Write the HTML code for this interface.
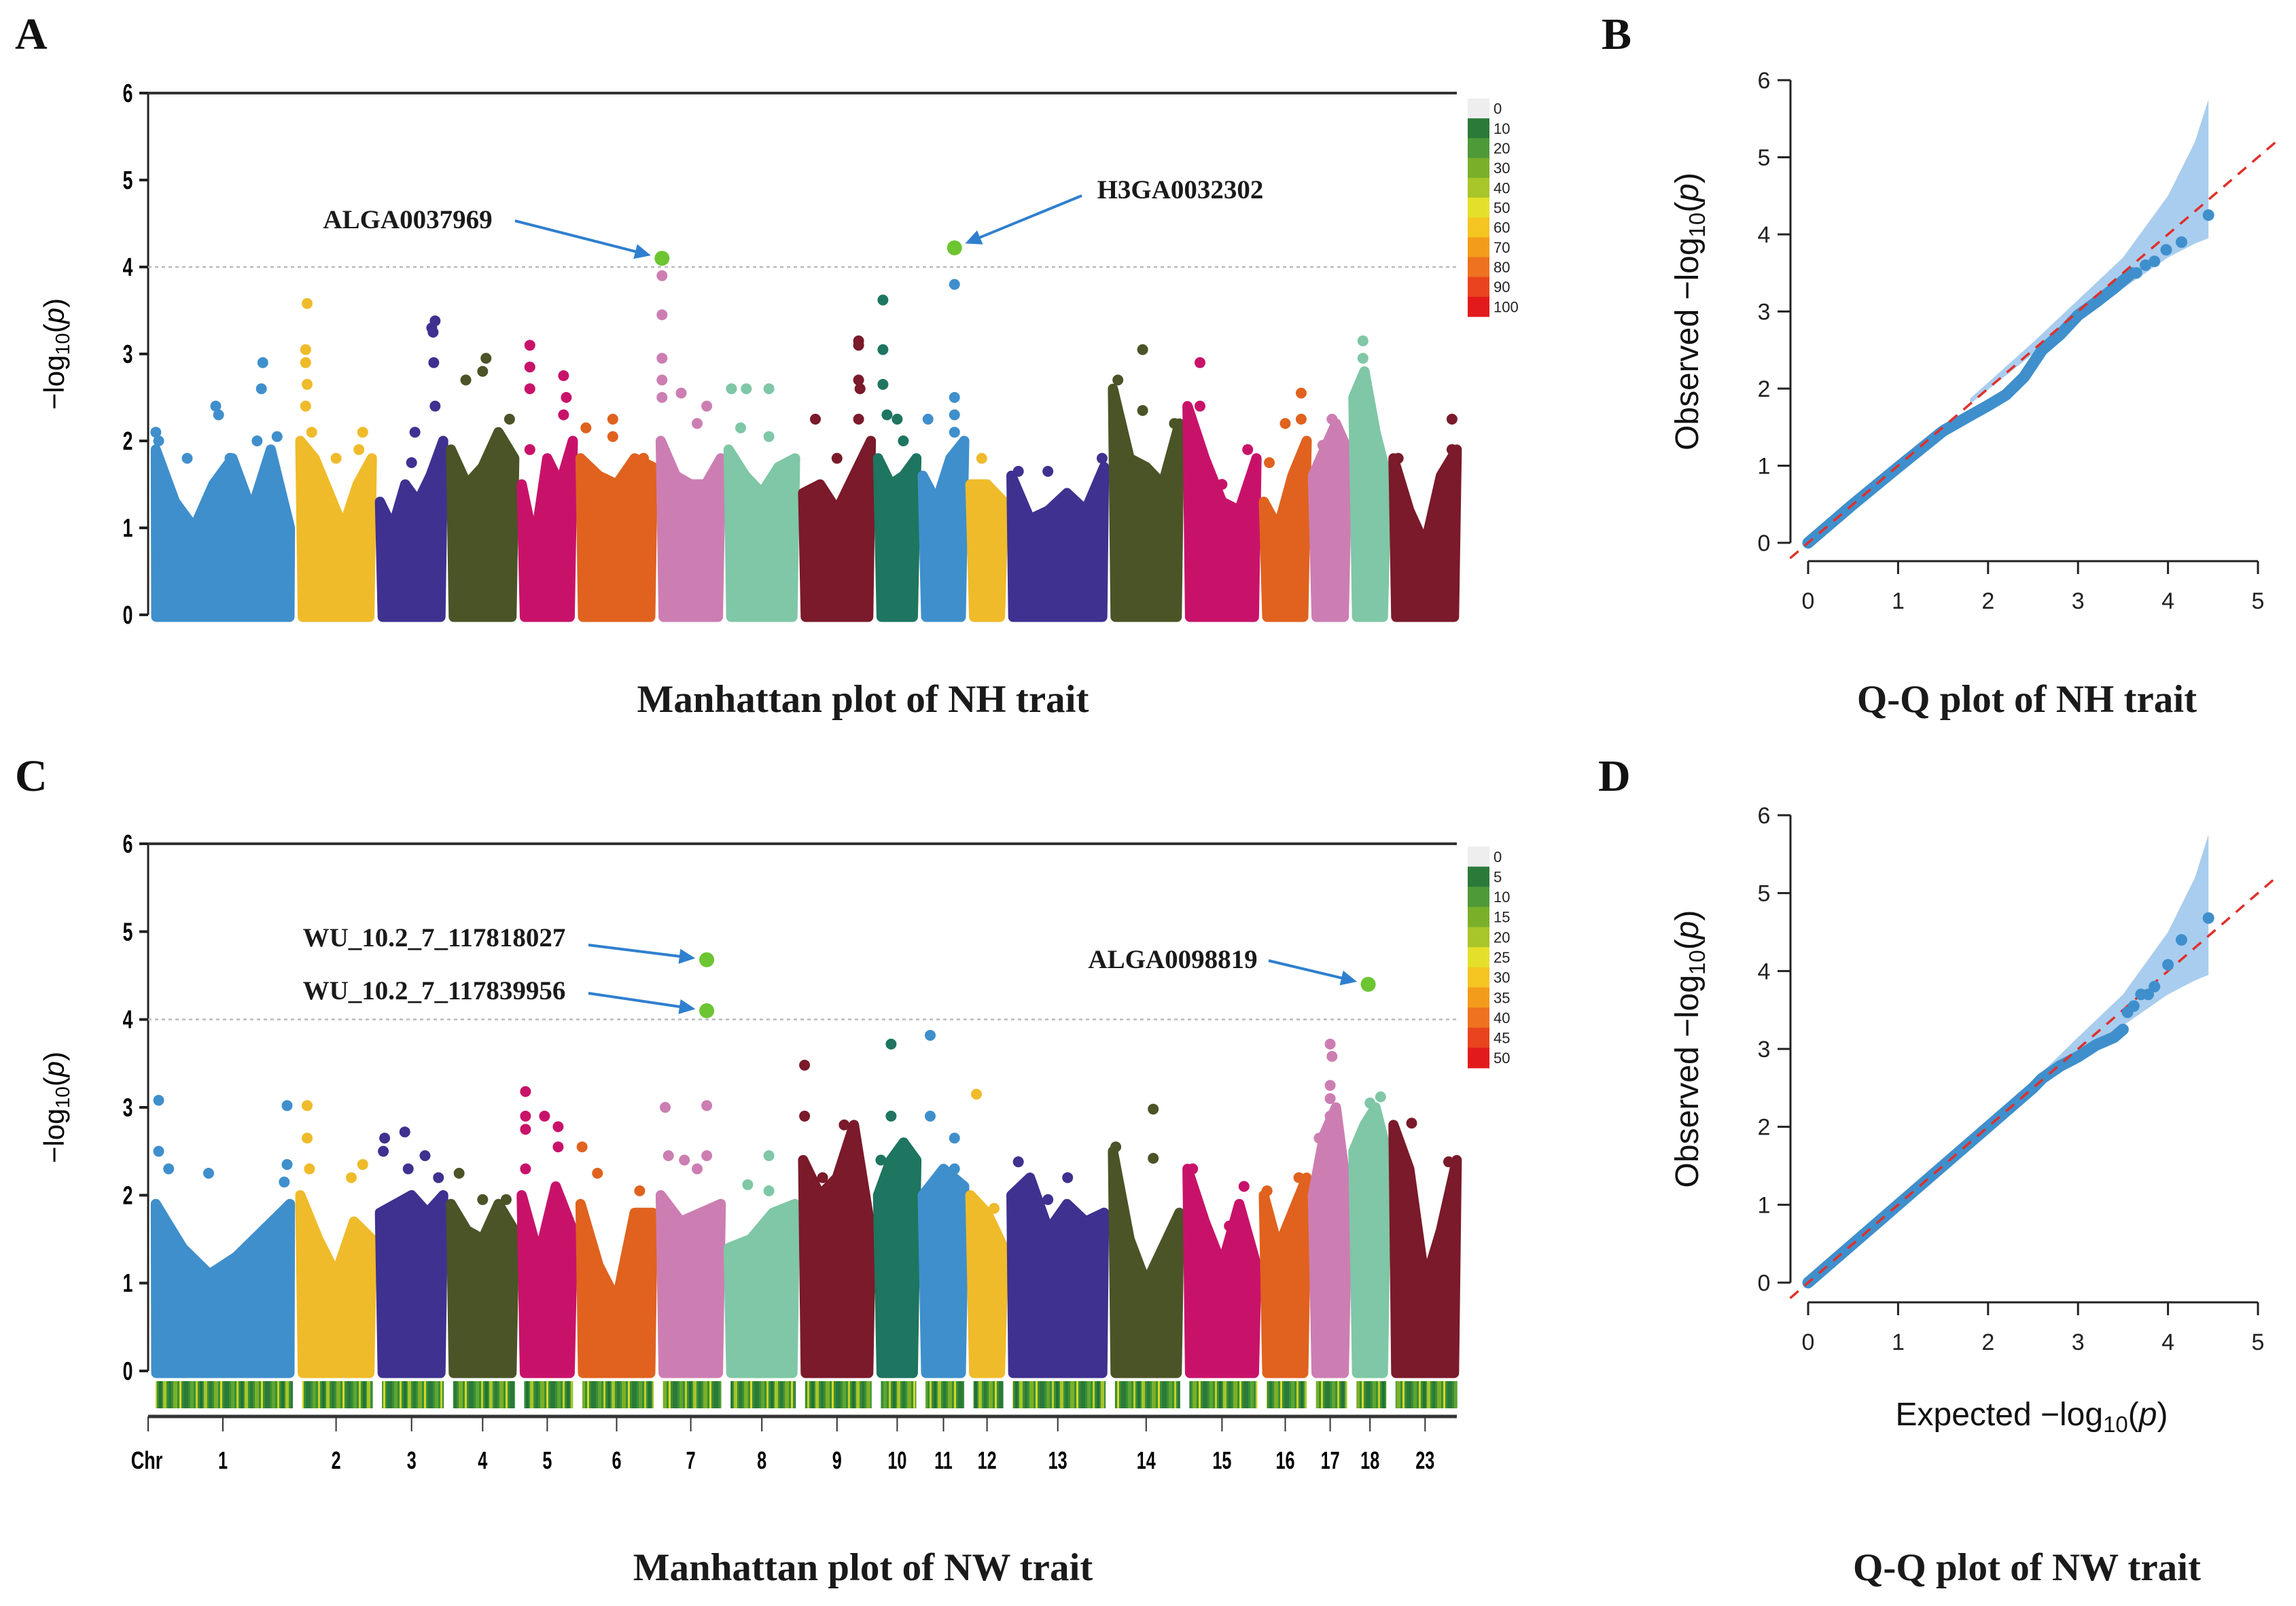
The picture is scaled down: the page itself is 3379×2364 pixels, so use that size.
<!DOCTYPE html>
<html><head><meta charset="utf-8"><style>
html,body{margin:0;padding:0;background:#fff;}
svg{display:block;}
.lab{font-family:"Liberation Serif",serif;font-weight:bold;}
.ax{font-family:"Liberation Sans",sans-serif;}
</style></head><body>
<svg id="fig" width="3379" height="2364" viewBox="0 0 3379 2364" xmlns="http://www.w3.org/2000/svg">
<defs>
<pattern id="stripes" width="60" height="40" patternUnits="userSpaceOnUse">
<rect width="60" height="40" fill="#3a8f35"/>
<rect x="0" width="5" height="40" fill="#a8c52a"/><rect x="8" width="4" height="40" fill="#2b7a3a"/>
<rect x="15" width="6" height="40" fill="#7aaf2a"/><rect x="24" width="3" height="40" fill="#d8d82a"/>
<rect x="30" width="7" height="40" fill="#2b7a3a"/><rect x="40" width="5" height="40" fill="#5ea532"/>
<rect x="48" width="3" height="40" fill="#c4d02a"/><rect x="54" width="4" height="40" fill="#237238"/>
</pattern>
</defs>
<g id="root"></g>
</svg>
<script>
const chrNames=["1","2","3","4","5","6","7","8","9","10","11","12","13","14","15","16","17","18","23"];
const chrLen=[210,112,99,99,80,113,94,104,106,60,65,52,145,104,108,67,54,52,99];
const chrColors=["#3f8fcc","#efbb2a","#3e3190","#4a5427","#c8126a","#e0621e","#cc7eb2","#7fc7a6","#7a1a2a","#1e7560","#3f8fcc","#efbb2a","#3e3190","#4a5427","#c8126a","#e0621e","#cc7eb2","#7fc7a6","#7a1a2a"];
const nhEnv=[[1.9,1.3,1.0,1.5,1.8,1.2,1.9,1.0],[2.0,1.8,1.4,1.0,1.5,1.8],[1.3,1.0,1.5,1.3,1.6,2.0],[1.9,1.5,1.7,2.1,1.8],[1.5,0.8,1.8,1.5,2.0],[1.8,1.6,1.5,1.8,1.7],[2.0,1.6,1.5,1.5,1.8],[1.9,1.6,1.4,1.7,1.8],[1.4,1.5,1.2,1.6,2.0],[1.8,1.5,1.6,1.8],[1.6,1.3,1.8,2.0],[1.5,1.5,1.3],[1.6,1.1,1.2,1.4,1.2,1.7],[2.6,1.8,1.7,1.5,2.2],[2.4,1.8,1.3,1.2,1.8],[1.3,1.0,1.6,2.0],[1.6,1.9,2.2,1.9],[2.5,2.8,2.1,1.6],[1.8,1.2,0.8,1.6,1.9]];
const nhOut=[[[0.03,2.1],[0.05,2.0],[0.25,1.8],[0.45,2.4],[0.47,2.3],[0.55,1.8],[0.78,2.9],[0.77,2.6],[0.74,2.0],[0.88,2.05]],
[[0.12,3.58],[0.1,3.05],[0.1,2.9],[0.12,2.65],[0.1,2.4],[0.18,2.1],[0.5,1.8],[0.85,2.1],[0.8,1.9]],
[[0.8,3.3],[0.85,3.38],[0.82,3.25],[0.83,2.9],[0.85,2.4],[0.55,2.1],[0.5,1.75]],
[[0.25,2.7],[0.5,2.8],[0.55,2.95],[0.9,2.25]],
[[0.18,3.1],[0.18,2.85],[0.18,2.6],[0.8,2.75],[0.85,2.5],[0.8,2.3],[0.18,1.9]],
[[0.1,2.15],[0.45,2.25],[0.45,2.05],[0.85,1.8]],
[[0.05,3.9],[0.05,3.45],[0.05,2.95],[0.05,2.7],[0.05,2.5],[0.35,2.55],[0.75,2.4],[0.6,2.2]],
[[0.07,2.6],[0.28,2.6],[0.6,2.6],[0.2,2.15],[0.6,2.05]],
[[0.2,2.25],[0.8,3.15],[0.8,3.1],[0.8,2.7],[0.82,2.6],[0.8,2.25],[0.5,1.8]],
[[0.15,3.62],[0.15,3.05],[0.15,2.65],[0.25,2.3],[0.5,2.25],[0.65,2.0]],
[[0.75,3.8],[0.75,2.5],[0.75,2.3],[0.75,2.1],[0.15,2.25]],
[[0.35,1.8]],
[[0.1,1.65],[0.4,1.65],[0.95,1.8]],
[[0.1,2.7],[0.45,3.05],[0.45,2.35],[0.9,2.2]],
[[0.2,2.9],[0.2,2.4],[0.85,1.9],[0.1,2.1],[0.5,1.5]],
[[0.15,1.75],[0.5,2.2],[0.85,2.55],[0.85,2.25]],
[[0.55,2.25],[0.3,1.95]],
[[0.3,3.15],[0.3,2.95],[0.35,2.75],[0.4,2.5]],
[[0.9,2.25],[0.9,1.9],[0.1,1.8]]];
const nwEnv=[[1.9,1.4,1.1,1.3,1.6,1.9],[2.0,1.5,1.1,1.7,1.5],[1.8,1.9,2.0,1.8,2.0],[1.9,1.6,1.5,1.9,1.6],[2.0,1.3,2.1,1.6],[1.9,1.2,0.8,1.8,1.8],[2.0,1.7,1.8,1.9],[1.4,1.5,1.8,1.9],[2.4,2.0,2.2,2.8,1.6],[2.0,2.4,2.6,2.4],[2.0,2.3,2.1],[2.0,1.8,1.4],[2.0,2.2,1.6,1.9,1.7,1.8],[2.5,1.5,1.0,1.4,1.8],[2.3,1.7,1.2,1.9,1.2],[2.0,1.4,1.8,2.2],[2.0,2.7,3.0,2.0],[2.5,2.8,3.0,2.5],[2.8,2.3,1.0,1.6,2.4]];
const nwOut=[[[0.05,3.08],[0.05,2.5],[0.12,2.3],[0.4,2.25],[0.95,3.02],[0.95,2.35],[0.93,2.15]],
[[0.12,3.02],[0.12,2.65],[0.15,2.3],[0.85,2.35],[0.7,2.2]],
[[0.1,2.65],[0.4,2.72],[0.08,2.5],[0.7,2.45],[0.45,2.3],[0.9,2.2]],
[[0.15,2.25],[0.5,1.95],[0.85,1.95]],
[[0.1,3.18],[0.1,2.9],[0.1,2.75],[0.45,2.9],[0.7,2.78],[0.7,2.55],[0.1,2.3]],
[[0.05,2.55],[0.25,2.25],[0.8,2.05]],
[[0.1,3.0],[0.15,2.45],[0.4,2.4],[0.6,2.3],[0.75,3.02],[0.75,2.45]],
[[0.3,2.12],[0.6,2.45],[0.6,2.05]],
[[0.05,3.48],[0.05,2.9],[0.6,2.8],[0.3,2.2]],
[[0.35,3.72],[0.35,2.9],[0.1,2.4],[0.6,2.4]],
[[0.2,3.82],[0.2,2.9],[0.75,2.65],[0.75,2.3]],
[[0.2,3.15],[0.7,1.85],[0.3,1.7]],
[[0.1,2.38],[0.6,2.2],[0.4,1.95]],
[[0.07,2.55],[0.6,2.98],[0.6,2.42]],
[[0.1,2.3],[0.6,1.65],[0.8,2.1]],
[[0.8,2.2],[0.1,2.05]],
[[0.5,3.72],[0.55,3.58],[0.5,3.25],[0.5,3.1],[0.5,2.9],[0.2,2.65]],
[[0.5,3.05],[0.8,3.12],[0.7,2.8]],
[[0.3,2.82],[0.85,2.38]]];
const nhHits=[{chr:6,f:0.05,v:4.1,name:"ALGA0037969",tx:600,ty:323,ax:758,ay:325},{chr:10,f:0.75,v:4.22,name:"H3GA0032302",tx:1737,ty:279,ax:1592,ay:288}];
const nwHits=[{chr:6,f:0.75,v:4.68,name:"WU_10.2_7_117818027",tx:639,ty:1380,ax:866,ay:1391},{chr:6,f:0.75,v:4.1,name:"WU_10.2_7_117839956",tx:639,ty:1458,ax:866,ay:1462},{chr:17,f:0.45,v:4.4,name:"ALGA0098819",tx:1726,ty:1412,ax:1867,ay:1414}];
const yTicks=[0,1,2,3,4,5,6];
const legNH=["0","10","20","30","40","50","60","70","80","90","100"];
const legNW=["0","5","10","15","20","25","30","35","40","45","50"];
const legColors=["#eeeeee","#2b7a3a","#4e9a38","#7aaf2a","#a8c52a","#e4e02a","#f5c521","#f39c1b","#ee7220","#e8441e","#e31a1c"];
const qqNHexp=[0,0.5,1,1.5,1.8,2.0,2.2,2.4,2.6,2.8,3.0,3.2,3.4,3.6];
const qqNHobs=[0,0.5,0.98,1.45,1.65,1.78,1.92,2.15,2.5,2.7,2.95,3.12,3.3,3.5];
const qqNHtailX=[3.65,3.75,3.85,3.98,4.15,4.45];
const qqNHtailY=[3.5,3.6,3.65,3.8,3.9,4.25];
const qqNHbandX=[1.8,2.5,3.0,3.5,4.0,4.3,4.45];
const qqNHbandUp=[1.87,2.6,3.15,3.7,4.5,5.2,5.75];
const qqNHbandLo=[1.8,2.45,2.9,3.3,3.7,3.88,3.95];
const qqNWexp=[0,0.5,1,1.5,2.0,2.5,2.6,2.8,3.0,3.2,3.4,3.5];
const qqNWobs=[0,0.5,1,1.5,2.0,2.5,2.62,2.78,2.9,3.05,3.15,3.25];
const qqNWtailX=[3.55,3.62,3.7,3.78,3.85,4.0,4.15,4.45];
const qqNWtailY=[3.47,3.55,3.7,3.7,3.8,4.08,4.4,4.68];
const qqNWbandX=[2.6,3.0,3.5,4.0,4.3,4.45];
const qqNWbandUp=[2.7,3.15,3.7,4.5,5.2,5.75];
const qqNWbandLo=[2.55,2.88,3.3,3.7,3.88,3.95];
const qqTicksX=[0,1,2,3,4,5];

const NS="http://www.w3.org/2000/svg";
const root=document.getElementById('root');
function mk(tag,attrs,parent){const e=document.createElementNS(NS,tag);for(const k in attrs)e.setAttribute(k,attrs[k]);(parent||root).appendChild(e);return e;}
function txt(s,attrs,parent){const e=mk('text',attrs,parent);e.textContent=s;return e;}

const X0=223,GAP=5.6;
const chrStart=[];let acc=X0;
chrLen.forEach(l=>{chrStart.push(acc);acc+=l+GAP;});
function xChr(c,f){return chrStart[c]+f*chrLen[c];}

function manhattan(opt){
  const g=mk('g',{});
  
  
  const y=v=>opt.y0-(opt.y0-opt.y6)*v/6;
  const ax=mk('line',{x1:218,y1:y(6),x2:218,y2:y(0),stroke:'#222','stroke-width':3},g);
  
  const top=mk('line',{x1:218,y1:y(6),x2:2144,y2:y(6),stroke:'#333','stroke-width':4},g);
  
  yTicks.forEach(t=>{
    const tk=mk('line',{x1:205,y1:y(t),x2:218,y2:y(t),stroke:'#222','stroke-width':4},g);
    
    const tl=txt(String(t),{x:188,y:y(t)+13,'text-anchor':'middle','font-size':38,'font-weight':'bold',class:'ax',transform:`translate(188 ${y(t)}) scale(0.7 1) translate(-188 ${-y(t)})`},g);
    
  });
  const th=mk('line',{x1:218,y1:y(4),x2:2144,y2:y(4),stroke:'#bbb','stroke-width':2.5,'stroke-dasharray':'5 5'},g);
  
  const yt=txt('',{x:0,y:0,'font-size':42,class:'ax',transform:`translate(94 ${(y(0)+y(6))/2}) rotate(-90)`,'text-anchor':'middle'},g);
  yt.innerHTML='−log<tspan font-size="29" dy="8">10</tspan><tspan dy="-8">(</tspan><tspan font-style="italic">p</tspan>)';
  
  chrLen.forEach((L,c)=>{
    const env=opt.env[c];const col=chrColors[c];
    const cg=mk('g',{},g);
    
    const pts=[[xChr(c,0)+7,y(0)+3]];
    env.forEach((v,i)=>{pts.push([xChr(c,env.length==1?0.5:i/(env.length-1)*0.94+0.03),y(v)]);});
    pts.push([xChr(c,1)-7,y(0)+3]);
    const poly=mk('polygon',{points:pts.map(p=>p.join(',')).join(' '),fill:col,stroke:col,'stroke-width':15,'stroke-linejoin':'round'},cg);
    
    opt.out[c].forEach(p=>{
      const d=mk('circle',{cx:xChr(c,p[0]),cy:y(p[1]),r:8,fill:col},cg);
      
    });
  });
  opt.hits.forEach(h=>{
    const cx=xChr(h.chr,h.f),cy=y(h.v);
    const d=mk('circle',{cx:cx,cy:cy,r:11,fill:'#6cc531'},g);
    
    const t=txt(h.name,{x:h.tx,y:h.ty+13,'text-anchor':'middle','font-size':39,class:'lab',fill:'#1a1a1a'},g);
    
    const ang=Math.atan2(cy-h.ay,cx-h.ax);const ex=cx-Math.cos(ang)*17,ey=cy-Math.sin(ang)*17;
    const ln=mk('line',{x1:h.ax,y1:h.ay,x2:ex-Math.cos(ang)*18,y2:ey-Math.sin(ang)*18,stroke:'#2f7fcf','stroke-width':4},g);
    
    const a1=ang+2.7,a2=ang-2.7;
    const hd=mk('polygon',{points:`${ex},${ey} ${ex+Math.cos(a1)*26},${ey+Math.sin(a1)*26} ${ex+Math.cos(a2)*26},${ey+Math.sin(a2)*26}`,fill:'#2f7fcf'},g);
    
  });
  const lg=mk('g',{},g);
  
  const bh=(opt.legB-opt.legT)/11;
  opt.leg.forEach((s,i)=>{
    const r=mk('rect',{x:2160,y:opt.legT+i*bh,width:32,height:bh+0.5,fill:legColors[i]},lg);
    
    const t=txt(s,{x:2198,y:opt.legT+i*bh+bh/2+8,'font-size':22,class:'ax',fill:'#222'},lg);
    
  });
  const tt=txt(opt.title,{x:1270,y:opt.titleY,'text-anchor':'middle','font-size':57,class:'lab',fill:'#1a1a1a'},g);
  
}
manhattan({name:'manhattan-nh',y0:905,y6:137,env:nhEnv,out:nhOut,hits:nhHits,leg:legNH,legT:145,legB:466,title:'Manhattan plot of NH trait',titleY:1048});
manhattan({name:'manhattan-nw',y0:2018,y6:1242,env:nwEnv,out:nwOut,hits:nwHits,leg:legNW,legT:1246,legB:1572,title:'Manhattan plot of NW trait',titleY:2326});

chrLen.forEach((L,c)=>{
  const r=mk('rect',{x:chrStart[c]+6,y:2033,width:L-8,height:40,fill:'url(#stripes)'});
  
});
const cax=mk('line',{x1:218,y1:2085,x2:2144,y2:2085,stroke:'#333','stroke-width':5});

const chrT=mk('line',{x1:218,y1:2085,x2:218,y2:2107,stroke:'#333','stroke-width':2});

const chrL=txt('Chr',{x:216,y:2162,'text-anchor':'middle','font-size':36,'font-weight':'bold',class:'ax',transform:'translate(216 2150) scale(0.75 1) translate(-216 -2150)'});

chrNames.forEach((n,c)=>{
  const cx=xChr(c,0.5);
  const t=mk('line',{x1:cx,y1:2085,x2:cx,y2:2107,stroke:'#333','stroke-width':2});
  
  const l=txt(n,{x:cx,y:2162,'text-anchor':'middle','font-size':36,'font-weight':'bold',class:'ax',transform:`translate(${cx} 2150) scale(0.7 1) translate(${-cx} -2150)`});
  
});

function qq(opt){
  const g=mk('g',{});
  
  const X=v=>2661+132.4*v;const Y=v=>opt.y0-(opt.y0-opt.y6)*v/6;
  const band=[];opt.bx.forEach((x,i)=>band.push([X(x),Y(opt.bu[i])]));
  for(let i=opt.bx.length-1;i>=0;i--)band.push([X(opt.bx[i]),Y(opt.bl[i])]);
  const b=mk('polygon',{points:band.map(p=>p.join(',')).join(' '),fill:'#a9cdee'},g);
  
  const ya=mk('line',{x1:2635,y1:Y(6),x2:2635,y2:Y(0),stroke:'#222','stroke-width':3},g);
  
  yTicks.forEach(t=>{
    const tk=mk('line',{x1:2616,y1:Y(t),x2:2635,y2:Y(t),stroke:'#222','stroke-width':3},g);
    
    const tl=txt(String(t),{x:2596,y:Y(t)+12,'text-anchor':'middle','font-size':34,class:'ax',fill:'#222'},g);
    
  });
  const xa=mk('line',{x1:X(0),y1:opt.xa,x2:X(5),y2:opt.xa,stroke:'#222','stroke-width':3},g);
  
  qqTicksX.forEach(t=>{
    const tk=mk('line',{x1:X(t),y1:opt.xa,x2:X(t),y2:opt.xa+19,stroke:'#222','stroke-width':3},g);
    
    const tl=txt(String(t),{x:X(t),y:opt.xa+70,'text-anchor':'middle','font-size':34,class:'ax',fill:'#222'},g);
    
  });
  const curve=opt.ex.map((x,i)=>X(x)+','+Y(opt.ob[i])).join(' ');
  const cl=mk('polyline',{points:curve,fill:'none',stroke:'#3f8fcc','stroke-width':17,'stroke-linecap':'round','stroke-linejoin':'round'},g);
  
  const rl=mk('line',{x1:X(-0.2),y1:Y(-0.2),x2:X(5.2),y2:Y(5.2),stroke:'#e0302a','stroke-width':3.5,'stroke-dasharray':'16 12'},g);
  
  opt.tx.forEach((x,i)=>{
    const c=mk('circle',{cx:X(x),cy:Y(opt.ty[i]),r:8.5,fill:'#3f8fcc'},g);
    
  });
  const yt=txt('',{x:0,y:0,'font-size':48,class:'ax',fill:'#111','text-anchor':'middle',transform:`translate(2499 ${(Y(0)+Y(6))/2}) rotate(-90)`},g);
  yt.innerHTML='Observed  −log<tspan font-size="33" dy="10">10</tspan><tspan dy="-10">(</tspan><tspan font-style="italic">p</tspan>)';
  
  if(opt.xlab){
    const xt=txt('',{x:2990,y:opt.xlab,'font-size':48,class:'ax',fill:'#111','text-anchor':'middle'},g);
    xt.innerHTML='Expected  −log<tspan font-size="33" dy="10">10</tspan><tspan dy="-10">(</tspan><tspan font-style="italic">p</tspan>)';
    
  }
  const tt=txt(opt.title,{x:2983,y:opt.titleY,'text-anchor':'middle','font-size':57,class:'lab',fill:'#1a1a1a'},g);
  
}
qq({name:'qq-nh',y0:799,y6:118,xa:826,ex:qqNHexp,ob:qqNHobs,tx:qqNHtailX,ty:qqNHtailY,bx:qqNHbandX,bu:qqNHbandUp,bl:qqNHbandLo,title:'Q-Q plot of NH trait',titleY:1048});
qq({name:'qq-nw',y0:1888,y6:1200,xa:1917,ex:qqNWexp,ob:qqNWobs,tx:qqNWtailX,ty:qqNWtailY,bx:qqNWbandX,bu:qqNWbandUp,bl:qqNWbandLo,xlab:2098,title:'Q-Q plot of NW trait',titleY:2326});

[["A",22,72],["B",2357,72],["C",22,1164],["D",2352,1164]].forEach(p=>{
  const t=txt(p[0],{x:p[1],y:p[2],'font-size':66,class:'lab',fill:'#111'});
  
});
</script>
</body></html>
